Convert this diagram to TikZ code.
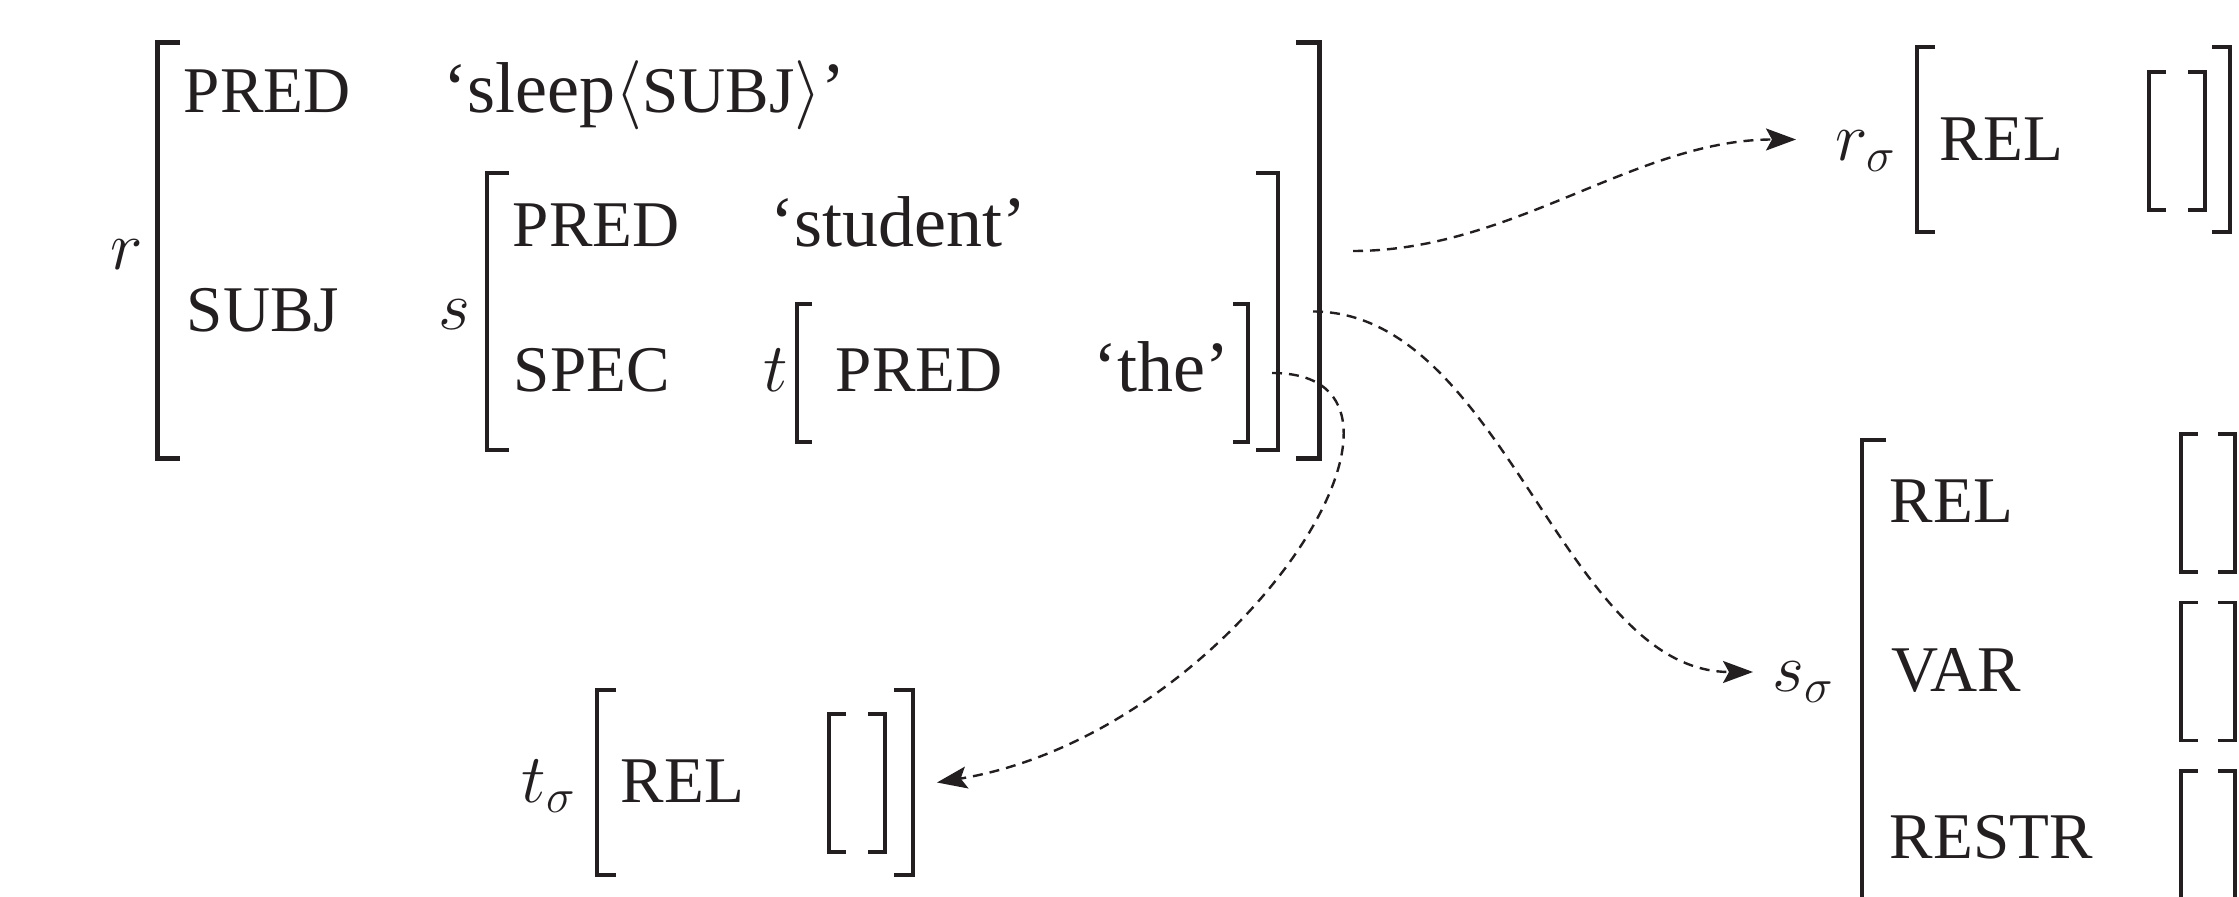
\documentclass[tikz,border=0pt]{standalone}
\usepackage{fontspec}
\setmainfont{Liberation Serif}
\usetikzlibrary{arrows.meta}
\definecolor{ink}{RGB}{35,31,32}
\newcommand\capsz{\fontsize{16.3}{18}\selectfont}
\newcommand\valsz{\fontsize{18}{20}\selectfont}
% square brackets on both sides of a box node: node, serif length, line width
\newcommand\avmbrackets[3]{%
  \draw[avmline, line width=#3] ([xshift=#2]#1.north west) -- (#1.north west)
    -- (#1.south west) -- ([xshift=#2]#1.south west);
  \draw[avmline, line width=#3] ([xshift=-#2]#1.north east) -- (#1.north east)
    -- (#1.south east) -- ([xshift=-#2]#1.south east);}
\begin{document}
\begin{tikzpicture}[x=0.25pt, y=-0.25pt,
  avm/.style 2 args={inner sep=0pt, outer sep=0pt, minimum width=#1, minimum height=#2},
  avmline/.style={draw=ink, line join=miter},
  attr/.style={anchor=base west, inner sep=0pt, text=ink, font=\capsz},
  val/.style={anchor=base west, inner sep=0pt, text=ink, font=\valsz},
  conn/.style={draw=ink, line width=0.6pt, dash pattern=on 2.5pt off 1.75pt,
    -{Stealth[length=7.5pt, width=5.5pt, inset=1.5pt]}}]
\useasboundingbox (0,0) rectangle (2239,897);
\clip (0,0) rectangle (2239,897);

% ---- f-structure r ----
\node[avm={290.5pt}{104pt}] (rm) at (738,251) {};
\node[avm={197.75pt}{69.25pt}] (sm) at (882.5,311.5) {};
\node[avm={112.75pt}{34.5pt}] (tm) at (1022.5,373) {};
\avmbrackets{rm}{5.75pt}{1.25pt}
\avmbrackets{sm}{5.5pt}{1.1pt}
\avmbrackets{tm}{3.75pt}{0.8pt}

\node[val] (rlab) at (110,270) {$r$};
\node[attr] (rpred) at (183,113) {PRED};
\node[val] (rpredv) at (443,113) {‘sleep$\langle${\capsz SUBJ}$\rangle$’};
\node[attr] (rsubj) at (186,332) {SUBJ};
\node[val] (slab) at (438,330) {$s$};
\node[attr] (spred) at (512,247) {PRED};
\node[val] (spredv) at (770,247) {‘student’};
\node[attr] (sspec) at (513,392) {SPEC};
\node[val] (tlab) at (763,392) {$t$};
\node[attr] (tpred) at (835,392) {PRED};
\node[val] (tpredv) at (1093,392) {‘the’};

% ---- s-structure of r ----
\node[avm={78.25pt}{46.25pt}] (rsm) at (2073.5,139.5) {};
\node[avm={14pt}{34.5pt}] (rse) at (2177,141) {};
\avmbrackets{rsm}{4.5pt}{1pt}
\avmbrackets{rse}{4.25pt}{0.8pt}
\node[val] (rslab) at (1835,161) {$r_\sigma$};
\node[attr] (rsrel) at (1939,161) {REL};

% ---- s-structure of s ----
\node[avm={107pt}{116pt}] (ssm) at (2076,672) {};
\node[avm={13.5pt}{34.5pt}] (sse1) at (2208,503) {};
\node[avm={13.5pt}{34.5pt}] (sse2) at (2208,671.5) {};
\node[avm={13.5pt}{34.5pt}] (sse3) at (2208,840) {};
\avmbrackets{ssm}{6pt}{1.1pt}
\avmbrackets{sse1}{4.25pt}{0.8pt}
\avmbrackets{sse2}{4.25pt}{0.8pt}
\avmbrackets{sse3}{4.25pt}{0.8pt}
\node[val] (sslab) at (1772,692) {$s_\sigma$};
\node[attr] (ssrel) at (1889,523) {REL};
\node[attr] (ssvar) at (1891,692) {VAR};
\node[attr] (ssrestr) at (1889,859) {RESTR};

% ---- s-structure of t ----
\node[avm={79pt}{46.25pt}] (tsm) at (755,782.5) {};
\node[avm={14pt}{34.5pt}] (tse) at (857,783) {};
\avmbrackets{tsm}{4.75pt}{1pt}
\avmbrackets{tse}{4.25pt}{0.8pt}
\node[val] (tslab) at (521,802) {$t_\sigma$};
\node[attr] (tsrel) at (620,802) {REL};

% ---- sigma projections ----
\draw[conn] ([xshift=8.5pt]rm.east) .. controls +(160,0) and +(-160,0) .. ([xshift=-30.25pt]rsm.west);
\draw[conn] ([xshift=8.75pt]sm.east) .. controls +(190,0) and +(-190,0) .. ([xshift=-27.25pt]ssm.west);
\draw[conn] ([xshift=6pt]tm.east) .. controls +(193,0) and +(300,-50) .. ([xshift=6pt]tsm.east);
\end{tikzpicture}
\end{document}
